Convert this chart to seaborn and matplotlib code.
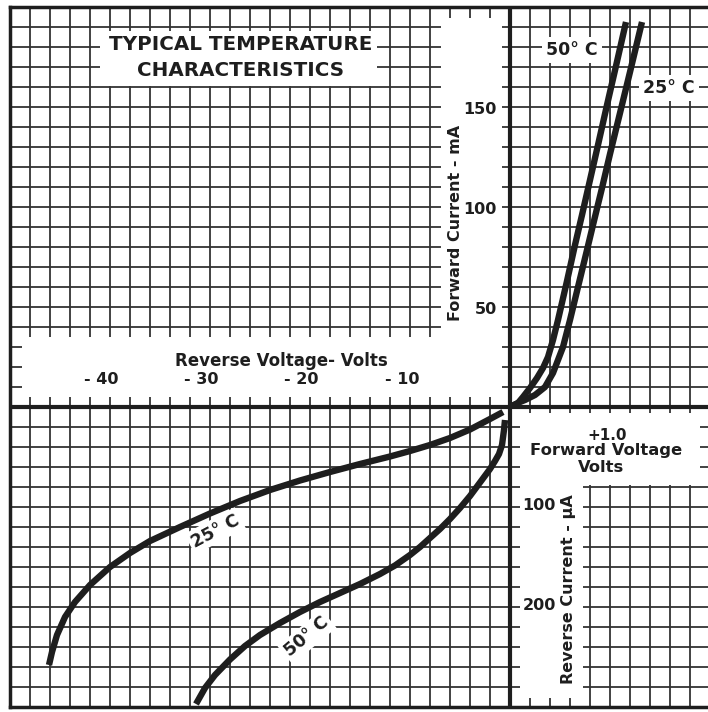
import matplotlib
matplotlib.use("Agg")
import matplotlib.pyplot as plt
import seaborn as sns
import pandas as pd
from matplotlib.patches import Rectangle
from matplotlib.ticker import MultipleLocator

# ---------------- data ----------------
# Forward characteristic: voltage (V) vs current (mA)
fwd_v_25 = [0.02, 0.10, 0.15, 0.25, 0.35, 0.43, 0.48, 0.53, 0.60, 0.68, 0.77, 0.83, 0.92, 1.00, 1.10, 1.20, 1.32]
fwd_i_25 = [0.5, 2.5, 3.5, 6.0, 10.0, 17.0, 23.5, 30.0, 43.5, 60.0, 78.5, 91.0, 109.5, 126.5, 147.0, 167.5, 192.5]
fwd_v_50 = [0.02, 0.08, 0.13, 0.20, 0.27, 0.33, 0.38, 0.43, 0.48, 0.57, 0.65, 0.72, 0.80, 0.88, 0.97, 1.06, 1.16]
fwd_i_50 = [0.5, 2.0, 5.0, 9.5, 14.5, 19.5, 25.0, 33.5, 43.5, 63.0, 81.0, 96.0, 113.5, 131.0, 151.0, 170.5, 192.5]

# Reverse characteristic: voltage (V) vs current (uA)
rev_v_25 = [-0.7, -2.0, -4.0, -6.0, -8.0, -10.0, -12.0, -15.0, -18.0, -21.0, -24.0, -27.0, -30.0,
            -33.0, -36.0, -38.0, -40.0, -42.0, -43.5, -44.5, -45.3, -45.8, -46.1]
rev_i_25 = [5.0, 12.0, 22.5, 31.0, 38.0, 44.0, 49.5, 57.0, 65.0, 73.5, 83.0, 94.0, 106.5,
            120.0, 134.0, 146.0, 160.0, 178.0, 195.0, 210.0, 228.0, 245.0, 258.0]
rev_v_50 = [-0.5, -0.6, -0.8, -1.1, -1.5, -2.0, -3.0, -4.0, -5.0, -6.0, -7.0, -8.0, -9.0, -10.0,
            -11.5, -13.0, -15.0, -17.0, -19.0, -21.0, -23.0, -25.0, -26.5, -28.0, -29.5, -30.5, -31.4]
rev_i_50 = [13.0, 23.0, 38.0, 47.0, 54.0, 62.0, 75.5, 89.0, 101.0, 112.0, 122.0, 131.0, 140.0, 148.0,
            158.5, 167.0, 177.0, 186.0, 195.0, 205.0, 216.0, 228.0, 239.0, 252.5, 268.0, 281.0, 297.0]

fwd_ticks = [50, 100, 150]
rev_v_ticks = [-40, -30, -20, -10]
rev_i_ticks = [100, 200]

# ---------------- style ----------------
sns.set_theme(style="white")
plt.rcParams["font.family"] = ["DejaVu Sans"]
INK = "#1e1e1e"
GRID = "#333333"
FW = "bold"

W, H = 708, 712
fig = plt.figure(figsize=(W / 100, H / 100), dpi=100)
fig.patch.set_facecolor("white")


def px_rect(x0, y0, x1, y1):
    return [x0 / W, 1 - y1 / H, (x1 - x0) / W, (y1 - y0) / H]


# background grid axes, 1 unit = one grid square, origin at the axes crossing
bg = fig.add_axes(px_rect(10, 7, 708, 707))
bg.set_xlim(-25, (708 - 510) / 20)
bg.set_ylim(-15, 20)
bg.xaxis.set_major_locator(MultipleLocator(1))
bg.yaxis.set_major_locator(MultipleLocator(1))
bg.set_axisbelow(True)
bg.grid(True, color=GRID, lw=1.3)
bg.tick_params(length=0, labelbottom=False, labelleft=False)
for side in ["left", "top", "bottom"]:
    bg.spines[side].set_visible(True)
    bg.spines[side].set_color(INK)
    bg.spines[side].set_linewidth(2.5)
bg.spines["right"].set_visible(False)
bg.axhline(0, color=INK, lw=3.0, zorder=3)
bg.axvline(0, color=INK, lw=3.0, zorder=3)


def cell(x, y):
    return (x - 510) / 20, (407 - y) / 20


def white_box(x0, y0, x1, y1):
    cx0, cy1 = cell(x0, y0)
    cx1, cy0 = cell(x1, y1)
    bg.add_patch(Rectangle((cx0, cy0), cx1 - cx0, cy1 - cy0, fc="white", ec="none", zorder=2))


white_box(100, 31, 377, 86)      # title
white_box(441, 18, 502, 397)     # forward current label
white_box(22, 337, 502, 397)     # reverse voltage label
white_box(520, 413, 700, 485)    # forward voltage label
white_box(520, 485, 583, 698)    # reverse current label

# title
bg.text(*cell(241, 45), "TYPICAL TEMPERATURE", ha="center", va="center",
        fontsize=14.3, fontweight=FW, color=INK, zorder=4)
bg.text(*cell(241, 71), "CHARACTERISTICS", ha="center", va="center",
        fontsize=14.3, fontweight=FW, color=INK, zorder=4)

# ---------------- forward quadrant ----------------
fx = fig.add_axes(px_rect(510, 7, 708, 407))
fx.set_xlim(0, (708 - 510) / 20 * 0.2)
fx.set_ylim(0, 200)
fx.axis("off")
fx.patch.set_alpha(0)

fwd = pd.concat([
    pd.DataFrame({"V": fwd_v_25, "I": fwd_i_25, "T": "25"}),
    pd.DataFrame({"V": fwd_v_50, "I": fwd_i_50, "T": "50"}),
])
sns.lineplot(data=fwd, x="V", y="I", units="T", estimator=None, sort=False,
             color=INK, lw=4.6, ax=fx, legend=False)
for ln in fx.lines:
    ln.set_solid_capstyle("butt")
    ln.set_solid_joinstyle("round")

for t in fwd_ticks:
    fx.text(-0.13, t - 1.5, str(t), ha="right", va="center", fontsize=11.5,
            fontweight=FW, color=INK, clip_on=False)
fx.text(-0.55, 92, "Forward Current - mA", rotation=90, ha="center", va="center",
        fontsize=11.5, fontweight=FW, color=INK, clip_on=False)
fx.text(0.62, 178.5, "50\u00b0 C", ha="center", va="center", fontsize=12.5,
        fontweight=FW, color=INK,
        bbox=dict(fc="white", ec="none", pad=3))
fx.text(1.59, 159.5, "25\u00b0 C", ha="center", va="center", fontsize=12.5,
        fontweight=FW, color=INK,
        bbox=dict(fc="white", ec="none", pad=3))
fx.text(0.97, -14, "+1.0", ha="center", va="center", fontsize=11,
        fontweight=FW, color=INK, clip_on=False)
fx.text(0.96, -21.5, "Forward Voltage", ha="center", va="center", fontsize=11.8,
        fontweight=FW, color=INK, clip_on=False)
fx.text(0.91, -30.5, "Volts", ha="center", va="center", fontsize=11.8,
        fontweight=FW, color=INK, clip_on=False)

# ---------------- reverse quadrant ----------------
rx = fig.add_axes(px_rect(10, 407, 510, 707))
rx.set_xlim(-50, 0)
rx.set_ylim(300, 0)
rx.axis("off")
rx.patch.set_alpha(0)

rev = pd.concat([
    pd.DataFrame({"V": rev_v_25, "I": rev_i_25, "T": "25"}),
    pd.DataFrame({"V": rev_v_50, "I": rev_i_50, "T": "50"}),
])
sns.lineplot(data=rev, x="V", y="I", units="T", estimator=None, sort=False,
             color=INK, lw=4.6, ax=rx, legend=False)
for ln in rx.lines:
    ln.set_solid_capstyle("butt")
    ln.set_solid_joinstyle("round")

for t in rev_v_ticks:
    rx.text(t + 0.9, -28, "- " + str(-t), ha="right", va="center", fontsize=11.5,
            fontweight=FW, color=INK, clip_on=False)
rx.text(-22.9, -46, "Reverse Voltage- Volts", ha="center", va="center", fontsize=12,
        fontweight=FW, color=INK, clip_on=False)
for t in rev_i_ticks:
    rx.text(4.6, t - 2, str(t), ha="right", va="center", fontsize=11.5,
            fontweight=FW, color=INK, clip_on=False)
rx.text(5.8, 182, "Reverse Current - \u00b5A", rotation=90, ha="center", va="center",
        fontsize=11.5, fontweight=FW, color=INK, clip_on=False)
rx.text(-29.5, 124, "25\u00b0 C", rotation=28, ha="center", va="center", fontsize=12.5,
        fontweight=FW, color=INK, bbox=dict(fc="white", ec="none", pad=2))
rx.text(-20.3, 230, "50\u00b0 C", rotation=40, ha="center", va="center", fontsize=12.5,
        fontweight=FW, color=INK, bbox=dict(fc="white", ec="none", pad=2))

fig.savefig("out.png", dpi=100, facecolor="white")
